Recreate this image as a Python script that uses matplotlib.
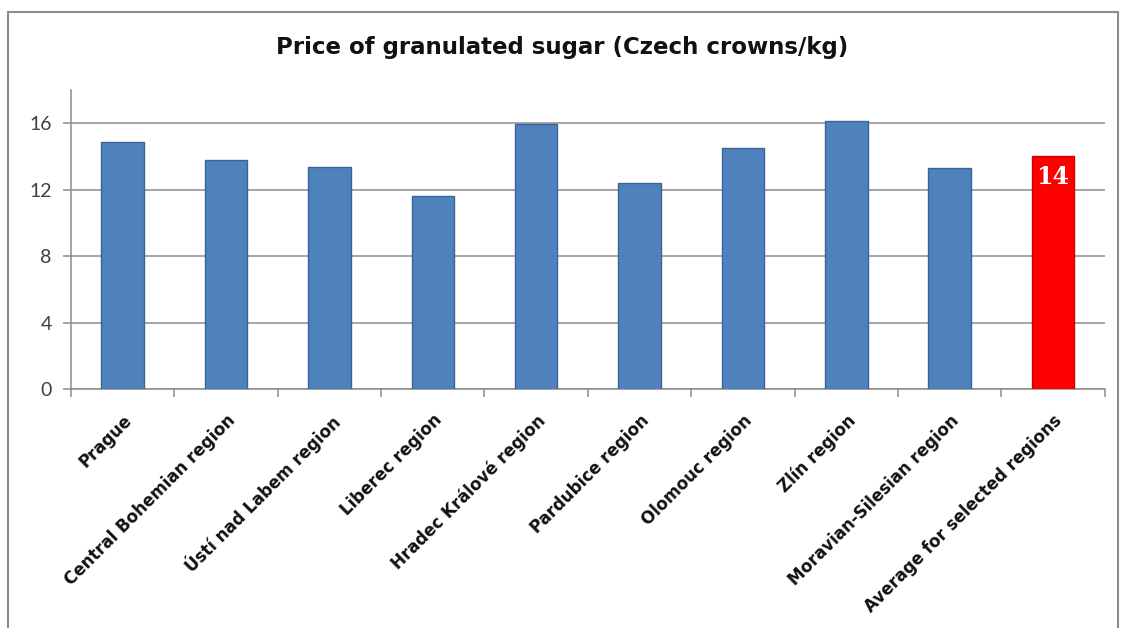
#!/usr/bin/env python3
# Price of granulated sugar by Czech region - bar chart

import matplotlib.pyplot as plt
import matplotlib.transforms as mtransforms
from matplotlib.patches import Rectangle
from matplotlib.ticker import FixedLocator, NullFormatter

regions = ['Prague', 'Central Bohemian region', 'Ústí nad Labem region',
           'Liberec region', 'Hradec Králové region', 'Pardubice region',
           'Olomouc region', 'Zlín region', 'Moravian-Silesian region',
           'Average for selected regions']
prices = [14.84, 13.8, 13.35, 11.6, 15.98, 12.39, 14.5, 16.14, 13.33, 14.0]
y_ticks = [0, 4, 8, 12, 16]

bar_colors = ['#4F81BD'] * (len(regions) - 1) + ['#FF0000']
edge_colors = ['#3A6496'] * (len(regions) - 1) + ['#D00000']

fig = plt.figure(figsize=(11.25, 6.28), dpi=100)
ax = fig.add_axes([0.0631, 0.3806, 0.9189, 0.4761])

x = list(range(len(regions)))
ax.bar(x, prices, width=0.41, color=bar_colors, edgecolor=edge_colors,
       linewidth=1.0, zorder=3)

# value label on the average bar
ax.text(x[-1], prices[-1] - 0.5, f"{prices[-1]:.0f}", color='white',
        ha='center', va='top', fontsize=17, fontweight='bold',
        family='DejaVu Serif', zorder=4)

ax.set_xlim(-0.5, len(regions) - 0.5)
ax.set_ylim(0, 18)
ax.set_yticks(y_ticks)
ax.yaxis.grid(True, color='#8C8C8C', linewidth=1.1, zorder=0)
ax.set_axisbelow(True)

# category labels centred on bars, ticks between categories
ax.set_xticks(x)
ax.set_xticklabels(regions, rotation=45, ha='right', rotation_mode='anchor',
                   fontsize=12, fontweight='bold', family='DejaVu Sans',
                   color='#111111')
shift = mtransforms.ScaledTranslation(-11 / 100, 0, fig.dpi_scale_trans)
for lbl in ax.get_xticklabels():
    lbl.set_transform(lbl.get_transform() + shift)
ax.tick_params(axis='x', which='major', length=0, pad=16)
ax.xaxis.set_minor_locator(FixedLocator([i - 0.5 for i in range(len(regions) + 1)]))
ax.xaxis.set_minor_formatter(NullFormatter())
ax.tick_params(axis='x', which='minor', length=6, color='#8C8C8C', width=1.1)
ax.tick_params(axis='y', length=6, color='#8C8C8C', width=1.1,
               labelsize=14, labelcolor='#404040', pad=8)
for lbl in ax.get_yticklabels():
    lbl.set_family('Lato')

for side in ['top', 'right']:
    ax.spines[side].set_visible(False)
for side in ['left', 'bottom']:
    ax.spines[side].set_color('#8C8C8C')
    ax.spines[side].set_linewidth(1.1)

fig.text(0.5, 0.925, 'Price of granulated sugar (Czech crowns/kg)',
         ha='center', va='center', fontsize=16.5, fontweight='bold',
         family='DejaVu Sans', color='#111111')

# outer chart border
fig.patches.append(Rectangle((8 / 1125, -0.01), 1110 / 1125, 1 - 12 / 628 + 0.01,
                             transform=fig.transFigure, fill=False,
                             edgecolor='#8C8C8C', linewidth=1.5))

fig.savefig('out.png', dpi=100, facecolor='white')
